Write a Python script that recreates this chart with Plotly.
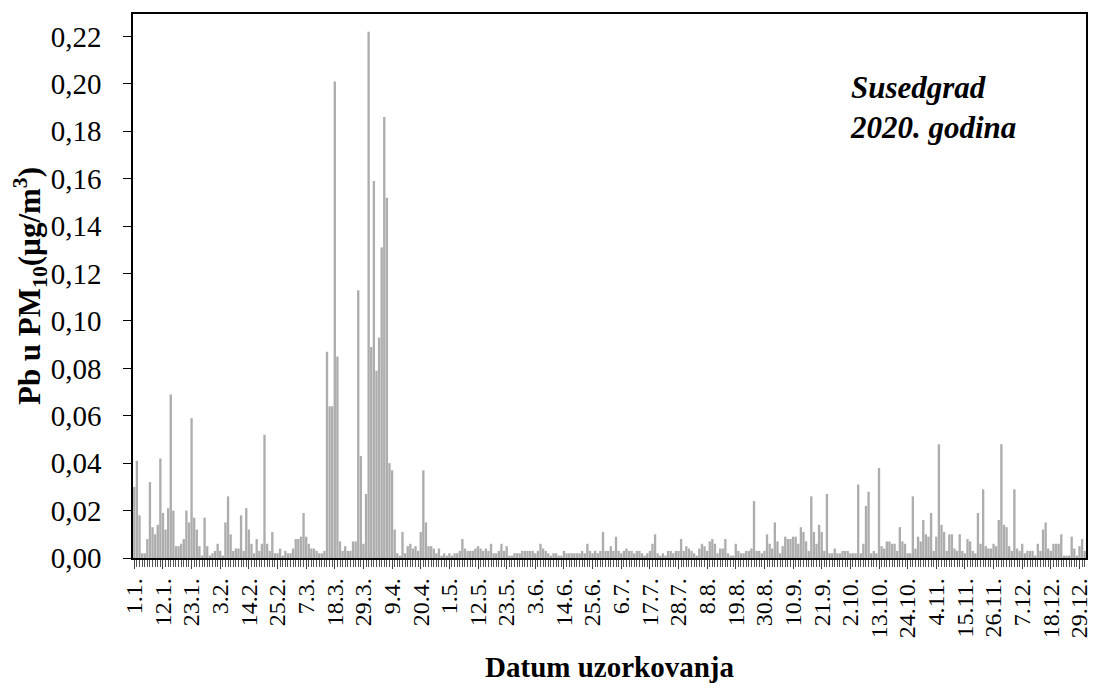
import plotly.graph_objects as go

# daily Pb in PM10, Susedgrad 2020 (ug/m3), one list per month
jan = [0.030, 0.041, 0.018, 0.002, 0.002, 0.008, 0.032, 0.013, 0.010, 0.014,
       0.042, 0.019, 0.012, 0.021, 0.069, 0.020, 0.005, 0.005, 0.006, 0.008,
       0.020, 0.015, 0.059, 0.017, 0.012, 0.005, 0.001, 0.017, 0.005, 0.001, 0.002]
feb = [0.003, 0.006, 0.003, 0.001, 0.015, 0.026, 0.010, 0.003, 0.004, 0.004,
       0.018, 0.003, 0.021, 0.012, 0.006, 0.002, 0.008, 0.003, 0.006, 0.052,
       0.006, 0.003, 0.011, 0.002, 0.002, 0.004, 0.001, 0.003, 0.002]
mar = [0.002, 0.004, 0.008, 0.008, 0.009, 0.019, 0.009, 0.006, 0.004, 0.004,
       0.003, 0.002, 0.002, 0.003, 0.087, 0.064, 0.064, 0.201, 0.085, 0.007,
       0.003, 0.005, 0.003, 0.003, 0.007, 0.007, 0.113, 0.043, 0.006, 0.027, 0.222]
apr = [0.089, 0.159, 0.079, 0.093, 0.131, 0.186, 0.152, 0.040, 0.037, 0.012,
       0.002, 0.001, 0.011, 0.002, 0.005, 0.006, 0.004, 0.005, 0.003, 0.011,
       0.037, 0.015, 0.005, 0.005, 0.004, 0.002, 0.004, 0.001, 0.002, 0.001]
may = [0.002, 0.001, 0.002, 0.002, 0.003, 0.008, 0.004, 0.003, 0.003, 0.003,
       0.004, 0.005, 0.004, 0.003, 0.004, 0.003, 0.006, 0.002, 0.002, 0.003,
       0.006, 0.003, 0.005, 0.001, 0.001, 0.002, 0.002, 0.002, 0.003, 0.003, 0.003]
jun = [0.003, 0.003, 0.002, 0.003, 0.006, 0.004, 0.003, 0.002, 0.001, 0.002,
       0.002, 0.001, 0.001, 0.003, 0.002, 0.002, 0.002, 0.002, 0.002, 0.002,
       0.003, 0.002, 0.006, 0.003, 0.002, 0.003, 0.002, 0.003, 0.011, 0.003]
jul = [0.003, 0.005, 0.003, 0.009, 0.003, 0.002, 0.003, 0.004, 0.003, 0.003,
       0.002, 0.003, 0.003, 0.002, 0.001, 0.002, 0.003, 0.006, 0.010, 0.002,
       0.001, 0.002, 0.001, 0.003, 0.003, 0.002, 0.003, 0.003, 0.008, 0.003, 0.005]
aug = [0.004, 0.003, 0.002, 0.001, 0.004, 0.006, 0.005, 0.003, 0.007, 0.008,
       0.006, 0.002, 0.004, 0.004, 0.008, 0.002, 0.001, 0.001, 0.006, 0.003,
       0.002, 0.002, 0.003, 0.003, 0.004, 0.024, 0.003, 0.003, 0.002, 0.003, 0.010]
sep = [0.006, 0.004, 0.015, 0.007, 0.002, 0.005, 0.009, 0.008, 0.008, 0.009,
       0.009, 0.006, 0.013, 0.011, 0.007, 0.003, 0.026, 0.011, 0.006, 0.014,
       0.011, 0.003, 0.027, 0.002, 0.002, 0.004, 0.002, 0.002, 0.003, 0.003]
oct_ = [0.003, 0.002, 0.002, 0.002, 0.031, 0.002, 0.006, 0.022, 0.028, 0.002,
        0.003, 0.002, 0.038, 0.005, 0.004, 0.007, 0.007, 0.006, 0.006, 0.003,
        0.013, 0.007, 0.006, 0.002, 0.002, 0.026, 0.004, 0.009, 0.007, 0.016, 0.010]
nov = [0.009, 0.019, 0.003, 0.009, 0.048, 0.014, 0.011, 0.003, 0.010, 0.010,
       0.004, 0.003, 0.010, 0.003, 0.002, 0.008, 0.007, 0.003, 0.002, 0.019,
       0.006, 0.029, 0.005, 0.004, 0.004, 0.006, 0.005, 0.016, 0.048, 0.014]
dec = [0.013, 0.005, 0.003, 0.029, 0.004, 0.003, 0.006, 0.002, 0.003, 0.003,
       0.003, 0.001, 0.006, 0.003, 0.012, 0.015, 0.004, 0.003, 0.006, 0.006,
       0.006, 0.010, 0.001, 0.001, 0.001, 0.009, 0.004, 0.001, 0.005, 0.008, 0.003]

months = [jan, feb, mar, apr, may, jun, jul, aug, sep, oct_, nov, dec]
values = [v for m in months for v in m]

# day labels "d.m." for every date of 2020
labels = []
for mi, m in enumerate(months):
    for d in range(len(m)):
        labels.append(f"{d + 1}.{mi + 1}.")
days = list(range(len(values)))

tick_pos = days[::11]
tick_text = [labels[i] for i in tick_pos]
y_ticks = [i * 0.02 for i in range(12)]
y_text = [f"{v:.2f}".replace(".", ",") for v in y_ticks]

serif = "Liberation Serif"

fig = go.Figure()
fig.add_trace(go.Bar(x=days, y=values, marker_color="#adadad",
                     marker_line_width=0, hoverinfo="skip"))

fig.update_xaxes(
    range=[-0.5, len(values) - 0.5], automargin=False,
    tickmode="array", tickvals=tick_pos, ticktext=tick_text,
    tickangle=-90, ticks="outside", ticklen=9, tickcolor="#444",
    minor=dict(dtick=1, tick0=0, ticks="outside", ticklen=7, tickcolor="#555"),
    showline=True, linecolor="black", linewidth=1.5, mirror=True,
    showgrid=False, zeroline=False,
    tickfont=dict(family=serif, size=24, color="black"),
    title=dict(text="<b>Datum uzorkovanja</b>", standoff=40,
               font=dict(family=serif, size=29, color="black")),
)
fig.update_yaxes(
    range=[0, 0.2295], automargin=False,
    tickmode="array", tickvals=y_ticks, ticktext=y_text,
    ticks="outside", ticklen=8, tickcolor="black", ticklabelstandoff=16,
    showline=True, linecolor="black", linewidth=1.5, mirror=True,
    showgrid=False, zeroline=False,
    tickfont=dict(family=serif, size=29, color="black"),
    title=dict(text="<b>Pb u PM<sub>10</sub>(µg/m<sup>3</sup>)</b>", standoff=0,
               font=dict(family=serif, size=31, color="black")),
)

fig.add_annotation(
    x=0.75, y=0.755, xref="paper", yref="paper", xanchor="left", yanchor="bottom",
    text="<b><i>Susedgrad<br>2020. godina</i></b>", showarrow=False, align="left",
    font=dict(family=serif, size=31, color="black"),
)

# the page keeps an 8 px body margin: size the figure so nothing scrolls
fig.update_layout(
    width=1088, height=675,
    margin=dict(l=125, r=10, t=6, b=125),
    plot_bgcolor="white", paper_bgcolor="white",
    bargap=0.1, showlegend=False,
)

fig.write_html("out.html")
